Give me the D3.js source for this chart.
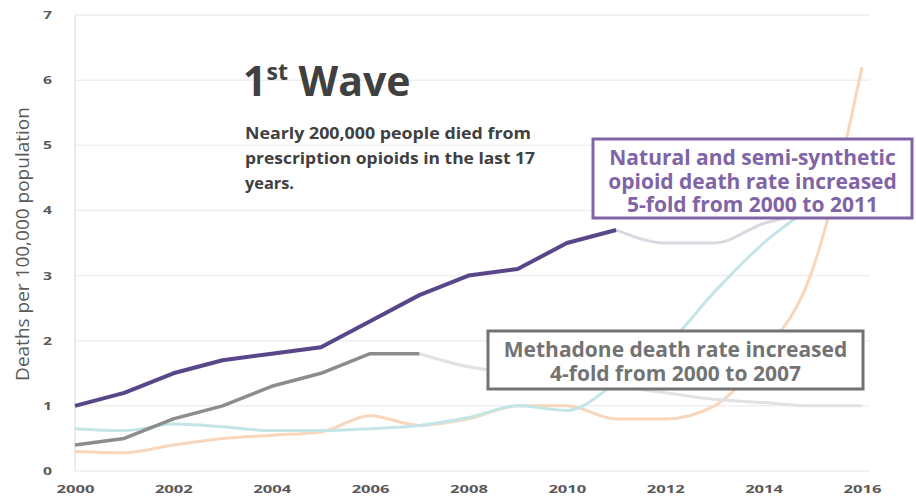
<!DOCTYPE html>
<html>
<head>
<meta charset="utf-8">
<script src="https://cdn.jsdelivr.net/npm/d3@7"></script>
<style>
  body { margin: 0; background: #fff; }
  svg { display: block; font-family: "Open Sans", sans-serif; }
</style>
</head>
<body>
<script>
// Data
var years = [2000,2001,2002,2003,2004,2005,2006,2007,2008,2009,2010,2011,2012,2013,2014,2015,2016];
var natural   = [1.0,1.2,1.5,1.7,1.8,1.9,2.3,2.7,3.0,3.1,3.5,3.7,3.5,3.5,3.8,4.0,4.4];
var methadone = [0.4,0.5,0.8,1.0,1.3,1.5,1.8,1.8,1.6,1.5,1.4,1.3,1.2,1.1,1.05,1.0,1.0];
var heroin    = [0.65,0.62,0.72,0.68,0.62,0.62,0.65,0.7,0.82,1.0,0.93,1.35,1.9,2.75,3.5,4.1,4.9];
var synthetic = [0.3,0.28,0.4,0.5,0.55,0.6,0.85,0.7,0.8,1.0,1.0,0.8,0.8,1.0,1.8,3.1,6.2];
var xTicks = [2000,2002,2004,2006,2008,2010,2012,2014,2016];
var yTicks = [0,1,2,3,4,5,6,7];

var width = 916, height = 496;
var svg = d3.select("body").append("svg").attr("width", width).attr("height", height);

var x = d3.scaleLinear().domain([2000, 2016]).range([75, 862]);
var y = d3.scaleLinear().domain([0, 7]).range([471, 15]);

// gridlines
svg.append("g").selectAll("line").data(yTicks).enter().append("line")
    .attr("x1", 75).attr("x2", 870)
    .attr("y1", function(d){ return y(d); }).attr("y2", function(d){ return y(d); })
    .attr("stroke", "#efefef").attr("stroke-width", 1.5);
svg.append("line").attr("x1", 75).attr("x2", 75).attr("y1", y(7)).attr("y2", y(0))
    .attr("stroke", "#e6e6e6").attr("stroke-width", 1.5);

// axes
var yAxis = d3.axisLeft(y).tickValues(yTicks).tickFormat(d3.format("d")).tickSize(0).tickPadding(0);
var xAxis = d3.axisBottom(x).tickValues(xTicks).tickFormat(d3.format("d")).tickSize(0).tickPadding(0);
var gy = svg.append("g").attr("transform", "translate(52,0)").call(yAxis);
var gx = svg.append("g").attr("transform", "translate(0,0)").call(xAxis);
[gy, gx].forEach(function(g){
    g.select(".domain").remove();
    g.selectAll("text").attr("fill", "#5a5a5a").style("font-size", "11px").style("font-weight", "700")
        .style("font-family", "'Open Sans', sans-serif")
        .attr("lengthAdjust", "spacingAndGlyphs");
});
gy.selectAll("text").attr("textLength", 9);
gx.selectAll("text").attr("y", 493).attr("dy", null).attr("textLength", 38);

svg.append("text")
    .attr("transform", "translate(29,244) rotate(-90)")
    .attr("text-anchor", "middle")
    .attr("fill", "#5a5a5a")
    .style("font-size", "19px")
    .text("Deaths per 100,000 population");

function pts(vals, from, to) {
    var out = [];
    for (var i = from; i <= to; i++) out.push([years[i], vals[i]]);
    return out;
}
var lineLin = d3.line().x(function(d){ return x(d[0]); }).y(function(d){ return y(d[1]); });
var lineSmooth = d3.line().curve(d3.curveMonotoneX).x(function(d){ return x(d[0]); }).y(function(d){ return y(d[1]); });

// faded series
var faded = [
    {pts: pts(synthetic, 0, 16), color: "#f8d6bb"},
    {pts: pts(heroin, 0, 16), color: "#c4e5e8"},
    {pts: pts(methadone, 7, 16), color: "#e2e2e4"},
    {pts: pts(natural, 11, 16), color: "#dcd8e2"}
];
svg.append("g").selectAll("path").data(faded).enter().append("path")
    .attr("d", function(d){ return lineSmooth(d.pts); })
    .attr("fill", "none").attr("stroke", function(d){ return d.color; })
    .attr("stroke-width", 3).attr("stroke-linejoin", "round");

// highlighted series
svg.append("path").attr("d", lineLin(pts(methadone, 0, 7)))
    .attr("fill", "none").attr("stroke", "#8c8c8c").attr("stroke-width", 3.5).attr("stroke-linejoin", "round");
svg.append("path").attr("d", lineLin(pts(natural, 0, 11)))
    .attr("fill", "none").attr("stroke", "#574688").attr("stroke-width", 4).attr("stroke-linejoin", "round");

// title block
var title = svg.append("text").attr("x", 243).attr("y", 96).attr("fill", "#404040")
    .style("font-weight", "700").style("font-size", "41px");
title.append("tspan").text("1");
title.append("tspan").attr("dy", -16).style("font-size", "23px").text("st");
title.append("tspan").attr("dy", 16).text(" Wave");

var note = ["Nearly 200,000 people died from", "prescription opioids in the last 17", "years."];
var noteLen = [286, 290, 49];
svg.append("g").selectAll("text").data(note).enter().append("text")
    .attr("x", 245).attr("y", function(d, i){ return 139 + i * 25; })
    .attr("fill", "#404040").style("font-weight", "700").style("font-size", "16.5px")
    .attr("textLength", function(d, i){ return noteLen[i]; })
    .attr("lengthAdjust", "spacingAndGlyphs")
    .text(function(d){ return d; });

// annotation boxes (one text element per box, lines as tspans)
function box(x0, y0, w, h, color, lines, ty) {
    var g = svg.append("g");
    g.append("rect").attr("x", x0).attr("y", y0).attr("width", w).attr("height", h)
        .attr("fill", "#fff").attr("stroke", color).attr("stroke-width", 3);
    var t = g.append("text").attr("y", ty).attr("text-anchor", "middle").attr("fill", color)
        .style("font-weight", "700").style("font-size", "21px");
    t.selectAll("tspan").data(lines).enter().append("tspan")
        .attr("x", x0 + w / 2).attr("dy", function(d, i){ return i === 0 ? 0 : 23.5; })
        .text(function(d){ return d; });
}
box(593, 139, 319, 79, "#8064a5", ["Natural and semi-synthetic", "opioid death rate increased", "5-fold from 2000 to 2011"], 165);
box(488, 331, 375, 58, "#737373", ["Methadone death rate increased", "4-fold from 2000 to 2007"], 357);
</script>
</body>
</html>
